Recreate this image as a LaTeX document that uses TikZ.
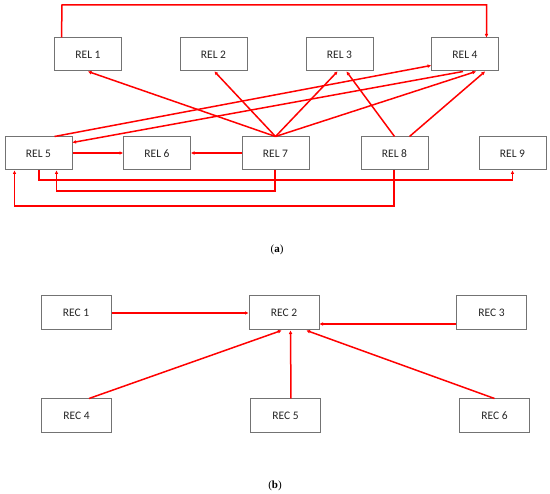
\documentclass[tikz,border=0pt]{standalone}
\usepackage{fontspec}
\setmainfont{Liberation Serif}
\newfontfamily\boxfont{Carlito}
\usetikzlibrary{arrows.meta,calc}
\tikzset{
  box/.style={draw=black!55, line width=1pt, fill=white, minimum width=67pt, minimum height=33pt, inner sep=0pt, font=\boxfont\fontsize{11.5}{13}\selectfont, text=black!85},
  rbox/.style={box, minimum width=70pt, minimum height=34pt},
  link/.style={draw=red, line width=1.5pt, -{Triangle[length=3.5pt,width=3.2pt]}},
  captext/.style={font=\fontsize{11}{13}\selectfont}
}
\begin{document}
\begin{tikzpicture}[x=1pt,y=-1pt]
\useasboundingbox (0,0) rectangle (550,494);
% (a) nodes
\node[box] (rel1) at (88,54.5) {REL 1};
\node[box] (rel2) at (213.5,54.5) {REL 2};
\node[box] (rel3) at (339.5,54.5) {REL 3};
\node[box] (rel4) at (465,54.5) {REL 4};
\node[box] (rel5) at (38.5,153.5) {REL 5};
\node[box] (rel6) at (157,153.5) {REL 6};
\node[box] (rel7) at (275.5,153.5) {REL 7};
\node[box] (rel8) at (394.5,153.5) {REL 8};
\node[box] (rel9) at (512.5,153.5) {REL 9};
\node[captext] (capa) at (277,250) {(\textbf{a})};
% (a) connectors
\coordinate (t1) at (62,5);
\draw[link] ($(rel1.north west)+(7.5,0)$) -- (t1) -| ($(rel4.north west)+(55.5,0)$);
\draw[link] ($(rel5.east)+(0,-0.5)$) -- ($(rel6.west)+(0,-0.5)$);
\draw[link] ($(rel7.west)+(0,-0.5)$) -- ($(rel6.east)+(0,-0.5)$);
\draw[link] (rel7.north) -- ($(rel1.south west)+(34,0)$);
\draw[link] (rel7.north) -- ($(rel2.south west)+(35,0)$);
\draw[link] (rel7.north) -- ($(rel3.south west)+(32,0)$);
\draw[link] (rel7.north) -- ($(rel4.south west)+(45,0)$);
\draw[link] (rel8.north) -- ($(rel3.south west)+(41,0)$);
\draw[link] ($(rel8.north west)+(49,0)$) -- ($(rel4.south west)+(54,0)$);
\draw[link] ($(rel5.north west)+(50,0)$) -- ($(rel4.north west)+(0,28)$);
\draw[link] ($(rel4.south west)+(32,0)$) -- ($(rel5.north east)+(0,6)$);
\coordinate (b1) at (39,180);
\coordinate (b2) at (275,191);
\coordinate (b3) at (394,206);
\draw[link] (b1 |- rel5.south) -- (b1) -| ($(rel9.south west)+(34,0)$);
\draw[link] (b2 |- rel7.south) -- (b2) -| ($(rel5.south west)+(52,0)$);
\draw[link] (b3 |- rel8.south) -- (b3) -| ($(rel5.south west)+(10,0)$);
% (b) nodes
\node[rbox] (rec1) at (76,313) {REC 1};
\node[rbox] (rec2) at (284,313) {REC 2};
\node[rbox] (rec3) at (491.5,313) {REC 3};
\node[rbox] (rec4) at (76.5,416) {REC 4};
\node[rbox] (rec5) at (285.5,416) {REC 5};
\node[rbox] (rec6) at (494.5,416) {REC 6};
\node[captext] (capb) at (275,486) {(\textbf{b})};
% (b) connectors
\draw[link] (rec1.east) -- (rec2.west);
\draw[link] ($(rec3.west)+(0,11)$) -- ($(rec2.east)+(0,11)$);
\draw[link] ($(rec4.north west)+(48,0)$) -- ($(rec2.south west)+(33,0)$);
\draw[link] ($(rec5.north west)+(41,0)$) -- ($(rec2.south west)+(42,0)$);
\draw[link] (rec6.north) -- ($(rec2.south west)+(58,0)$);
\end{tikzpicture}
\end{document}
